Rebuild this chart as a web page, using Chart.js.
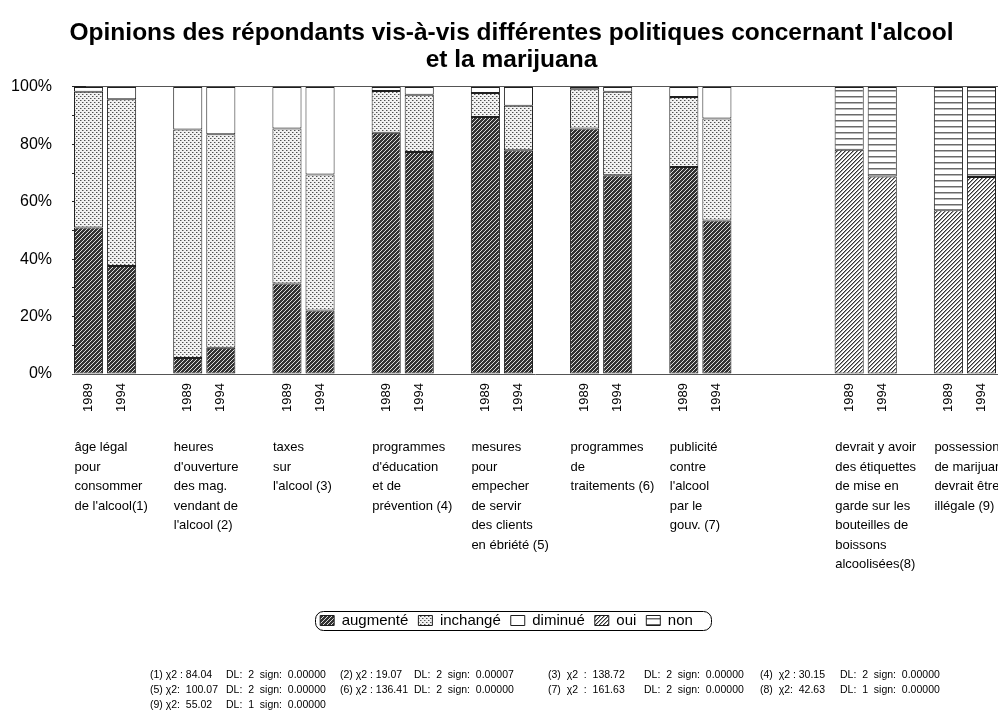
<!DOCTYPE html>
<html><head><meta charset="utf-8">
<style>
html,body{margin:0;padding:0;background:#fff;}
#wrap{position:relative;width:998px;height:715px;overflow:hidden;}
#c{position:absolute;left:0;top:0;}
.fn{position:absolute;font-family:'Liberation Sans',Arial,sans-serif;font-size:10.5px;line-height:12px;color:#000;white-space:pre;}
</style>
<script src="https://cdn.jsdelivr.net/npm/chart.js"></script>
</head><body>
<div id="wrap"><canvas id="c" width="998" height="715"></canvas><div id="notes"></div></div>
<script>
// ---------- DATA ----------
const titleLines = ["Opinions des répondants vis-à-vis différentes politiques concernant l'alcool", "et la marijuana"];
const years = ['1989', '1994'];
const categories = [
  ["âge légal", "pour", "consommer", "de l'alcool(1)"],
  ["heures", "d'ouverture", "des mag.", "vendant de", "l'alcool (2)"],
  ["taxes", "sur", "l'alcool (3)"],
  ["programmes", "d'éducation", "et de", "prévention (4)"],
  ["mesures", "pour", "empecher", "de servir", "des clients", "en ébriété (5)"],
  ["programmes", "de", "traitements (6)"],
  ["publicité", "contre", "l'alcool", "par le", "gouv. (7)"],
  ["devrait y avoir", "des étiquettes", "de mise en", "garde sur les", "bouteilles de", "boissons", "alcoolisées(8)"],
  ["possession", "de marijuana", "devrait être", "illégale (9)"]
];
// first slot of each category on the x axis (28 slots, gaps are empty slots)
const categorySlots = [0, 3, 6, 9, 12, 15, 18, 23, 26];
const slotCount = 28;
// values in % : pairs [1989, 1994] for categories 1..7
const augmente = [51.0, 37.6, 5.6, 9.1, 31.5, 22.1, 84.0, 77.3, 89.5, 77.9, 85.5, 69.2, 72.1, 53.5];
const inchange = [47.3, 58.1, 79.6, 74.4, 54.0, 47.4, 14.6, 20.0, 8.4, 15.5, 13.7, 29.1, 24.4, 35.5];
const diminue  = [1.7, 4.3, 14.8, 16.5, 14.5, 30.5, 1.4, 2.7, 2.1, 6.6, 0.8, 1.7, 3.5, 11.0];
// pairs [1989, 1994] for categories 8..9
const oui = [78.1, 68.8, 57.0, 68.6];
const non = [21.9, 31.2, 43.0, 31.4];
const yTicks = [0, 20, 40, 60, 80, 100];
const footnotes = [
  ["(1) χ2 : 84.04", "DL:  2  sign:  0.00000"], ["(2) χ2 : 19.07", "DL:  2  sign:  0.00007"],
  ["(3)  χ2  :  138.72", "DL:  2  sign:  0.00000"], ["(4)  χ2 : 30.15", "DL:  2  sign:  0.00000"],
  ["(5) χ2:  100.07", "DL:  2  sign:  0.00000"], ["(6) χ2 : 136.41", "DL:  2  sign:  0.00000"],
  ["(7)  χ2  :  161.63", "DL:  2  sign:  0.00000"], ["(8)  χ2:  42.63", "DL:  1  sign:  0.00000"],
  ["(9) χ2:  55.02", "DL:  1  sign:  0.00000"]
];

// ---------- helpers ----------
function toSlots(values, catIdx) {
  const out = new Array(slotCount).fill(null);
  catIdx.forEach((c, k) => {
    out[categorySlots[c]] = values[2 * k];
    out[categorySlots[c] + 1] = values[2 * k + 1];
  });
  return out;
}
const yearLabels = new Array(slotCount).fill('');
const catLabels = new Array(slotCount).fill('');
categorySlots.forEach((s, i) => {
  yearLabels[s] = years[0]; yearLabels[s + 1] = years[1]; catLabels[s] = categories[i];
});

const mainCtx = document.getElementById('c').getContext('2d');
function makePattern(size, draw) {
  const c = document.createElement('canvas'); c.width = c.height = size;
  const g = c.getContext('2d'); draw(g, size);
  return mainCtx.createPattern(c, 'repeat');
}
const patAug = makePattern(4, (g, s) => {
  g.fillStyle = '#333333'; g.fillRect(0, 0, s, s);
  g.fillStyle = '#dcdcdc'; for (let i = 0; i < s; i++) g.fillRect(i, s - 1 - i, 1, 1);
});
const patInch = makePattern(4, (g, s) => {
  g.fillStyle = '#f2f2f2'; g.fillRect(0, 0, s, s);
  g.fillStyle = '#505050'; g.fillRect(0, 0, 1, 1); g.fillRect(2, 2, 1, 1);
  g.fillStyle = '#a8a8a8'; g.fillRect(1, 0, 1, 1); g.fillRect(3, 2, 1, 1);
});
const patOui = makePattern(4, (g, s) => {
  g.fillStyle = '#ffffff'; g.fillRect(0, 0, s, s);
  for (let i = 0; i < s; i++) {
    g.fillStyle = '#333333'; g.fillRect(i, s - 1 - i, 1, 1);
    g.fillStyle = '#9a9a9a'; g.fillRect((i + 1) % s, s - 1 - i, 1, 1);
  }
});
const patNon = makePattern(6, (g, s) => {
  g.fillStyle = '#ffffff'; g.fillRect(0, 0, s, s);
  g.fillStyle = '#6a6a6a'; g.fillRect(0, 0, s, 1);
  g.fillStyle = '#b5b5b5'; g.fillRect(0, 1, s, 1);
});

const alcCats = [0, 1, 2, 3, 4, 5, 6];
const marCats = [7, 8];
function ds(label, values, cats, pattern) {
  return {
    label, data: toSlots(values, cats), backgroundColor: pattern,
    borderColor: '#1e1e1e', borderWidth: 1, borderSkipped: false,
    barPercentage: 0.88, categoryPercentage: 1.0
  };
}

Chart.defaults.font.family = "'Liberation Sans', Arial, sans-serif";
Chart.defaults.color = '#000';

// shift title and legend blocks to the reference's horizontal centre
const shiftBlocks = {
  id: 'shiftBlocks',
  afterLayout(chart) {
    if (chart.titleBlock) { chart.titleBlock.left += 22; }
    if (chart.legend) { chart.legend.left += 6; chart.legend.right += 6; }
  }
};
const legendFrame = {
  id: 'legendFrame',
  afterDraw(chart) {
    const hb = chart.legend && chart.legend.legendHitBoxes;
    if (!hb || !hb.length) return;
    const l = Math.min(...hb.map(h => h.left)) - 5;
    const r = Math.max(...hb.map(h => h.left + h.width)) + 18;
    const t = Math.min(...hb.map(h => h.top)) - 2;
    const b = Math.max(...hb.map(h => h.top + h.height)) + 2;
    const ctx = chart.ctx;
    ctx.save(); ctx.strokeStyle = '#000'; ctx.lineWidth = 1;
    ctx.beginPath(); ctx.roundRect(Math.round(l) + 0.5, Math.round(t) + 0.5, Math.round(r - l), Math.round(b - t), 8); ctx.stroke(); ctx.restore();
  }
};

function zeroPad(s) { s.paddingLeft = 0; s.paddingRight = 0; s.paddingTop = 0; s.paddingBottom = 0; }

new Chart(mainCtx, {
  type: 'bar',
  data: {
    labels: yearLabels,
    datasets: [
      ds('augmenté', augmente, alcCats, patAug),
      ds('inchangé', inchange, alcCats, patInch),
      ds('diminué', diminue, alcCats, '#ffffff'),
      ds('oui', oui, marCats, patOui),
      ds('non', non, marCats, patNon)
    ]
  },
  options: {
    responsive: false, animation: false, events: [],
    layout: { padding: { left: 0, right: -3, top: 0, bottom: 77 } },
    plugins: {
      title: {
        display: true, text: titleLines, color: '#000',
        font: { size: 24.5, weight: 'bold', lineHeight: 1.1 },
        padding: { top: 20, bottom: 13 }
      },
      legend: {
        position: 'bottom',
        labels: { boxWidth: 14, boxHeight: 10, font: { size: 15 }, color: '#000', padding: 10 }
      },
      tooltip: { enabled: false }
    },
    scales: {
      x: {
        stacked: true, offset: true, weight: 0,
        grid: { display: false, drawTicks: false },
        border: { display: true, color: '#555', width: 1 },
        ticks: { autoSkip: false, minRotation: 90, maxRotation: 90, font: { size: 13 }, color: '#000', padding: 9 },
        afterFit(s) { s.height = 45; zeroPad(s); }
      },
      x2: {
        type: 'category', labels: catLabels, position: 'bottom', weight: 1, offset: true,
        grid: { display: false, drawTicks: false }, border: { display: false },
        ticks: {
          autoSkip: false, minRotation: 0, maxRotation: 0, align: 'start', labelOffset: -14,
          font: { size: 13, lineHeight: 1.5 },
          color: '#000', padding: 19
        },
        afterFit(s) { s.height = 184; zeroPad(s); }
      },
      y: {
        stacked: true, min: 0, max: 100, weight: 1, z: 1,
        afterBuildTicks(s) { s.ticks = yTicks.map(v => ({ value: v })); },
        ticks: { callback: v => v + '%', padding: 34, font: { size: 16 }, color: '#000' },
        grid: {
          color: c => (c.tick && c.tick.value === 100) ? '#555' : 'rgba(0,0,0,0)',
          tickColor: '#222', tickLength: -14, drawOnChartArea: true
        },
        border: { display: false },
        afterFit(s) { s.width = 72; zeroPad(s); }
      },
      y2: {
        min: 0, max: 100, position: 'left', weight: 0, z: 1,
        ticks: { display: false, stepSize: 10 },
        grid: { drawOnChartArea: false, tickLength: -7, tickColor: '#222' },
        border: { display: false },
        afterFit(s) { s.width = 0; zeroPad(s); }
      }
    }
  },
  plugins: [shiftBlocks, legendFrame]
});

// footnotes as real text
const notes = document.getElementById('notes');
const colX = [[150, 226], [340, 414], [548, 644], [760, 840]];
const rowY = [668, 683, 698];
footnotes.forEach((f, i) => {
  const r = Math.floor(i / 4), c = i % 4;
  f.forEach((txt, j) => {
    const d = document.createElement('div'); d.className = 'fn';
    d.style.left = colX[c][j] + 'px'; d.style.top = rowY[r] + 'px';
    d.textContent = txt; notes.appendChild(d);
  });
});
</script>
</body></html>
